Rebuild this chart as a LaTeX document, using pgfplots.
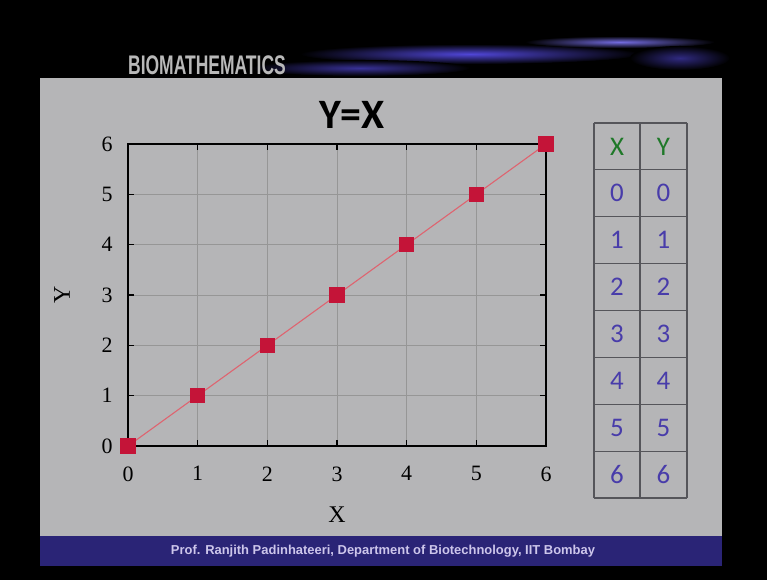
\documentclass[border=0pt]{standalone}
\usepackage{pgfplots}
\pgfplotsset{compat=1.18}
\usepackage{fontspec}
\setmainfont{Liberation Serif}
\newfontfamily\calibri{Carlito}
\newfontfamily\headfont{Liberation Sans}

\definecolor{panelgray}{RGB}{181,181,183}
\definecolor{footblue}{RGB}{42,36,118}
\definecolor{foottext}{RGB}{205,198,235}
\definecolor{markred}{RGB}{196,20,56}
\definecolor{linered}{RGB}{222,100,112}
\definecolor{gridgray}{RGB}{150,150,150}
\definecolor{tableline}{RGB}{85,85,90}
\definecolor{headgreen}{RGB}{30,120,40}
\definecolor{digitblue}{RGB}{72,60,170}
\definecolor{streak}{RGB}{80,70,215}

\begin{document}
\begin{tikzpicture}[x=1bp,y=1bp]
% slide background
\fill[black] (0,0) rectangle (767,580);
% header band with blue streaks
\shade[inner color=streak, outer color=black] (470,526) ellipse (170 and 10);
\shade[inner color=streak!80!white, outer color=black] (620,538) ellipse (95 and 6);
\shade[inner color=streak!70!black, outer color=black] (360,512) ellipse (110 and 8);
\shade[inner color=streak!60!black, outer color=black] (680,522) ellipse (50 and 12);
\node[anchor=base west, text=gray!55!white, inner sep=0pt, xscale=0.65]
  at (128,505) {\fontsize{27}{30}\selectfont\headfont\bfseries BIOMATHEMATICS};
% slide panel and footer
\fill[panelgray] (40,44) rectangle (722,502);
\fill[footblue] (40,14) rectangle (722,44);
\node[text=foottext, inner sep=0pt] at (383,29)
  {\fontsize{13}{15}\selectfont\headfont\bfseries Prof. Ranjith Padinhateeri, Department of Biotechnology, IIT Bombay};
% title
\node at (352,465) {\fontsize{42}{46}\selectfont\calibri\bfseries Y=X};

% the plot
\coordinate (plotorigin) at (128,134);
\begin{axis}[
  at={(plotorigin)}, anchor=south west,
  width=418bp, height=302bp, scale only axis,
  xmin=0, xmax=6, ymin=0, ymax=6,
  xtick={0,...,6}, ytick={0,...,6},
  grid=major,
  grid style={gridgray, line width=0.5bp},
  axis line style={black, line width=2.2bp},
  tick style={black, line width=1.6bp},
  major tick length=6bp,
  tick align=inside,
  /pgf/number format/assume math mode=true,
  ticklabel style={font=\fontsize{22}{24}\selectfont},
  xticklabel style={yshift=-17bp},
  yticklabel style={xshift=-12bp},
  xlabel={X}, ylabel={Y},
  label style={font=\fontsize{24}{26}\selectfont},
  xlabel style={at={(axis description cs:0.5,-0.228)}, anchor=center},
  ylabel style={at={(axis description cs:-0.158,0.5)}, anchor=center, rotate=0},
  clip=false,
]
\addplot[linered, line width=1.1bp, mark=square*, mark size=7bp,
  mark options={fill=markred, draw=markred}]
  coordinates {(0,0) (1,1) (2,2) (3,3) (4,4) (5,5) (6,6)};
\end{axis}

% value table beside the plot
\foreach \i in {0,...,8} {
  \draw[tableline, line width=1.2bp] (594,{457-\i*46.875}) -- (687,{457-\i*46.875});
}
\draw[tableline, line width=1.2bp] (594,457) -- (594,82);
\draw[tableline, line width=1.2bp] (640,457) -- (640,82);
\draw[tableline, line width=1.2bp] (687,457) -- (687,82);
\node[text=headgreen] at (617,{457-0.5*46.875}) {\fontsize{27}{29}\selectfont\calibri X};
\node[text=headgreen] at (663.5,{457-0.5*46.875}) {\fontsize{27}{29}\selectfont\calibri Y};
\foreach \v in {0,...,6} {
  \node[text=digitblue] at (617,{457-(\v+1.5)*46.875}) {\fontsize{27}{29}\selectfont\calibri \v};
  \node[text=digitblue] at (663.5,{457-(\v+1.5)*46.875}) {\fontsize{27}{29}\selectfont\calibri \v};
}
\end{tikzpicture}
\end{document}
